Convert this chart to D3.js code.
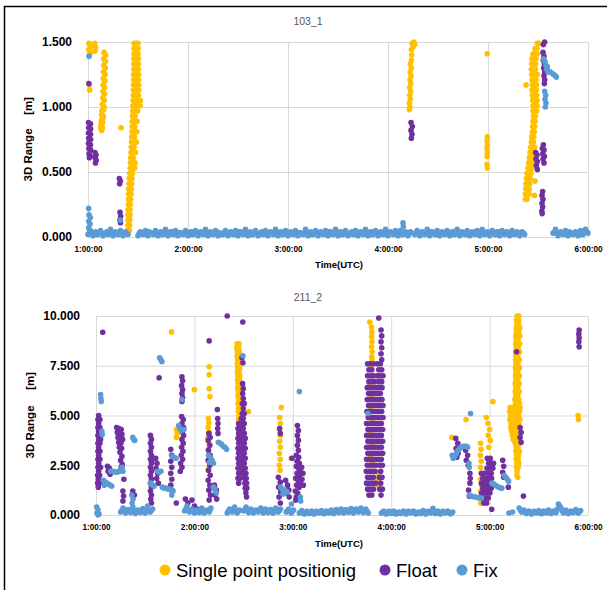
<!DOCTYPE html>
<html>
<head>
<meta charset="utf-8">
<script src="https://cdn.jsdelivr.net/npm/d3@7"></script>
<style>
  body { margin: 0; background: #fff; }
  svg text { font-family: "Liberation Sans", Arial, sans-serif; }
  .grid line { stroke: #d9d9d9; stroke-width: 1; }
  .grid .domain { display: none; }
</style>
</head>
<body>
<svg id="chart" width="607" height="590"></svg>
<script>

// x values are minutes after 1:00:00 UTC, y values are 3D range in metres
var hourTicks = [0, 60, 120, 180, 240, 300];
var hourLabels = ["1:00:00", "2:00:00", "3:00:00", "4:00:00", "5:00:00", "6:00:00"];
var seriesNames = ["Single point positionig", "Float", "Fix"];
var seriesColors = ["#FFC000", "#7030A0", "#5B9BD5"];

var ticks103 = [0, 0.5, 1, 1.5];
var ticks211 = [0, 2.5, 5, 7.5, 10];

// ---------- 103_1 ----------
var spp103 = [
 [0.5,1.49],[1.2,1.46],[0.5,1.44],[1.5,1.42],[0.8,1.40],[2,1.48],[0.8,1.17],[1,1.13],[4,1.49],[4.5,1.46],[4.2,1.43],
 [9.6,1.42],[10.6,1.40],[9.5,1.37],[10.5,1.35],[9.4,1.32],[10.4,1.30],[9.3,1.27],[10.3,1.25],[9.2,1.22],[10.2,1.20],[9.1,1.17],[10,1.15],[9,1.12],[9.9,1.10],[8.9,1.07],[9.8,1.05],[8.6,1.02],[9.6,1.00],[8.3,0.97],[9.4,0.98],[8.2,0.94],[9.2,0.93],[8,0.90],[9,0.91],[7.8,0.87],[8.8,0.88],[7.6,0.84],[8.6,0.84],[8.2,0.82],
 [19.8,0.84],
 [23.8,0.05],[24.8,0.05],[23.9,0.09],[25,0.09],[24,0.13],[25.1,0.13],[24,0.17],[25.2,0.17],[24.1,0.21],[25.3,0.21],[24.2,0.25],[25.4,0.25],[24.3,0.29],[25.6,0.29],[24.4,0.33],[25.8,0.33],[24.5,0.37],[26,0.37],[24.6,0.41],[26.2,0.41],[24.8,0.45],[26.4,0.45],[25,0.49],[26.6,0.49],
 [25.3,0.53],[26.8,0.53],[28,0.53],[25.5,0.57],[27,0.57],[28.2,0.57],[25.6,0.61],[27.2,0.61],[25.8,0.65],[27.4,0.65],[28.6,0.65],[26,0.69],[27.6,0.69],[26.1,0.73],[27.8,0.73],[29,0.73],[26.2,0.77],[27.9,0.77],[26.4,0.81],[28,0.81],[29.3,0.81],[26.5,0.85],[28.1,0.85],[26.6,0.89],[28.2,0.89],[29.5,0.89],[26.7,0.93],[28.3,0.93],[26.8,0.97],[28.4,0.97],[29.8,0.97],
 [27,1.01],[28.5,1.01],[30,1.01],[31.3,1.01],[27.1,1.05],[28.6,1.05],[30.2,1.05],[31.5,1.05],[27.2,1.09],[28.7,1.09],[30.3,1.09],[27.3,1.13],[28.8,1.13],[30.5,1.13],[27.3,1.17],[28.9,1.17],[30.4,1.17],[27.4,1.21],[29,1.21],[30.4,1.21],[27.4,1.25],[29,1.25],[30.3,1.25],[27.5,1.29],[29.1,1.29],[30.3,1.29],[27.5,1.33],[29.1,1.33],[30.2,1.33],[27.5,1.37],[29.1,1.37],[30.2,1.37],[27.6,1.41],[29.1,1.41],[30.1,1.41],[27.6,1.45],[29.1,1.45],[30.1,1.45],[27.7,1.49],[29.1,1.49],[30,1.49],
 [195.5,1.50],[194.5,1.49],[196,1.48],[195,1.46],[194,1.44],[194.2,1.40],[194,1.36],[193.4,1.33],[194,1.30],[193.3,1.27],[193.8,1.24],[193.2,1.21],[193.7,1.18],[193,1.15],[193.6,1.12],[193,1.09],[193.4,1.06],[192.8,1.03],[193.2,1.00],[192.8,0.98],
 [239.5,1.41],[239.6,0.77],[239.4,0.74],[239.6,0.71],[239.4,0.68],[239.6,0.65],[239.5,0.62],[239.4,0.56],[239.6,0.53],
 [269.6,1.49],[270.6,1.49],[268.2,1.45],[269.4,1.45],[267,1.41],[268.4,1.41],[269.6,1.41],[266.4,1.37],[267.6,1.37],[268.8,1.37],[266.2,1.33],[267.4,1.33],[268.6,1.33],[266,1.29],[267.2,1.29],[268.4,1.29],
 [266.2,1.25],[267.4,1.25],[268.6,1.25],[269.6,1.25],[266.4,1.21],[267.6,1.21],[268.8,1.21],[262.8,1.17],[266.6,1.17],[267.8,1.17],[269,1.17],[266.4,1.13],[267.8,1.13],[269,1.13],
 [266.6,1.09],[268,1.09],[269.2,1.09],[266.8,1.05],[268,1.05],[269.4,1.05],[267,1.01],[268.2,1.01],[269.4,1.01],[267,0.97],[268.2,0.97],[269.2,0.97],[267.2,0.93],[268.4,0.93],[267,0.89],[268.2,0.89],
 [266.8,0.85],[268,0.85],[266.6,0.81],[267.8,0.81],[266.2,0.77],[267.4,0.77],[266,0.73],[267.2,0.73],[265.6,0.69],[266.8,0.69],[268,0.69],[265.2,0.65],[266.4,0.65],[267.6,0.65],
 [264.8,0.61],[266,0.61],[267.2,0.61],[264.4,0.57],[265.6,0.57],[266.8,0.57],[264,0.53],[265.2,0.53],[266.4,0.53],[263.4,0.49],[264.6,0.49],[265.8,0.49],[263,0.45],[264.2,0.45],[265.4,0.45],[268.2,0.43],
 [262.8,0.41],[264,0.41],[265,0.41],[262.6,0.37],[263.8,0.37],[264.8,0.37],[262.4,0.33],[263.6,0.33],[264.6,0.33],[267.8,0.32],[262.4,0.29],[263.4,0.29]
];

var float103 = [
 [0.5,1.18],
 [0.3,0.88],[1.5,0.87],[0.4,0.84],[1.6,0.83],[0.3,0.80],[1.5,0.79],[0.4,0.76],[1.6,0.75],[0.3,0.72],[1.5,0.71],[0.5,0.68],[1.6,0.67],[0.6,0.64],[1.4,0.62],[0.8,0.61],
 [4.2,0.65],[4.8,0.63],[4.3,0.61],[4.9,0.59],[4.5,0.57],
 [18.8,0.45],[19.4,0.43],[19,0.41],
 [19.2,0.19],[19.6,0.16],[19.2,0.13],[19.5,0.11],
 [193.8,0.88],[194.6,0.85],[193.8,0.82],[194.4,0.79],[194,0.76],
 [274,1.50],[273.2,1.48],[273,1.42],[273.6,1.39],[273.2,1.36],[273.8,1.33],[273.4,1.30],[274,1.27],[273.6,1.24],[274,1.21],[273.8,1.18],
 [268.6,0.65],[269.4,0.63],[268.8,0.60],[269.6,0.58],[269,0.55],[269.6,0.52],
 [273.2,0.71],[272.6,0.68],[273.6,0.67],[272.8,0.64],[273.8,0.62],[273,0.60],[273.6,0.57],
 [272.8,0.35],[272.4,0.32],[273,0.29],[272.4,0.26],[272.8,0.23],[272.3,0.20],[272.5,0.18]
];

var fix103 = [
 [0.6,1.39],[19.5,0.13],
 [0.4,0.22],[0.6,0.17],[1.4,0.15],[0.5,0.12],[1.2,0.10],[0.4,0.07],
 [273.4,1.37],[274.2,1.35],[274.8,1.32],[275.6,1.31],[275.2,1.29],[276,1.27],[277.2,1.27],[278.4,1.26],[279.4,1.25],[280.4,1.24],[281,1.23],
 [274,1.12],[274.6,1.09],[274.2,1.06],[274.8,1.03],[274.4,1.00],
 [189,0.11],[189.2,0.08],
 [0,.02],[1.5,.05],[3,.01],[4.5,.04],[6,.02],[7.5,.05],[9,.01],[10.5,.03],[12,.02],[13.5,.06],[15,.01],[16.5,.04],[18,.02],[19.5,.05],[21,.01],[22.5,.04],[24,.02],
 [30,.01],[31.5,.04],[33,.02],[34.5,.05],[36,.01],[37.5,.03],[39,.02],[40.5,.05],[42,.01],[43.5,.04],[45,.02],[46.5,.06],[48,.01],[49.5,.04],[51,.02],[52.5,.05],[54,.01],[55.5,.03],[57,.02],[58.5,.05],
 [60,.01],[61.5,.04],[63,.02],[64.5,.05],[66,.01],[67.5,.04],[69,.02],[70.5,.06],[72,.01],[73.5,.04],[75,.02],[76.5,.05],[78,.01],[79.5,.03],[81,.02],[82.5,.05],[84,.01],[85.5,.04],[87,.02],[88.5,.05],
 [90,.01],[91.5,.04],[93,.02],[94.5,.06],[96,.01],[97.5,.04],[99,.02],[100.5,.05],[102,.01],[103.5,.03],[105,.02],[106.5,.05],[108,.01],[109.5,.04],[111,.02],[112.5,.06],[114,.01],[115.5,.04],[117,.02],[118.5,.05],
 [120,.01],[121.5,.04],[123,.02],[124.5,.05],[126,.01],[127.5,.03],[129,.02],[130.5,.06],[132,.01],[133.5,.04],[135,.02],[136.5,.05],[138,.01],[139.5,.04],[141,.02],[142.5,.05],[144,.01],[145.5,.04],[147,.02],[148.5,.06],
 [150,.01],[151.5,.04],[153,.02],[154.5,.05],[156,.01],[157.5,.03],[159,.02],[160.5,.05],[162,.01],[163.5,.04],[165,.02],[166.5,.06],[168,.01],[169.5,.04],[171,.02],[172.5,.05],[174,.01],[175.5,.04],[177,.02],[178.5,.06],
 [180,.01],[181.5,.04],[183,.02],[184.5,.05],[186,.01],[187.5,.05],[189,.02],[190.5,.04],[192,.01],[193.5,.04],
 [196,.02],[197.5,.05],[199,.01],[200.5,.04],[202,.02],[203.5,.06],[205,.01],[206.5,.04],[208,.02],[209.5,.05],[211,.01],[212.5,.04],[214,.02],[215.5,.05],[217,.01],[218.5,.04],[220,.02],[221.5,.06],[223,.01],[224.5,.04],
 [226,.02],[227.5,.05],[229,.01],[230.5,.04],[232,.02],[233.5,.05],[235,.01],[236.5,.06],[238,.02],[239.5,.04],[241,.01],[242.5,.05],[244,.02],[245.5,.04],[247,.01],[248.5,.05],[250,.02],[251.5,.04],[253,.01],[254.5,.05],
 [256,.02],[257.5,.04],[259,.01],[260.5,.04],[262,.02],
 [279,.03],[280.5,.06],[282,.01],[283.5,.04],[285,.02],[286.5,.05],[288,.01],[289.5,.03],[291,.02],[292.5,.04],[294,.01],[295.5,.05],[297,.02],[298.5,.06],[300,.03]
];

// extra Fix epochs that fill the dense 103_1 near-zero band
var fix103Band = [
 [0.75,.035],[2.25,.025],[3.75,.03],[5.25,.02],[6.75,.035],[8.25,.03],[9.75,.025],[11.25,.04],[12.75,.03],[14.25,.02],[15.75,.035],[17.25,.03],[18.75,.025],[20.25,.035],[21.75,.03],[23.25,.025],
 [30.75,.03],[32.25,.025],[33.75,.035],[35.25,.02],[36.75,.04],[38.25,.03],[39.75,.025],[41.25,.035],[42.75,.03],[44.25,.02],[45.75,.035],[47.25,.03],[48.75,.025],[50.25,.04],[51.75,.03],[53.25,.02],
 [54.75,.035],[56.25,.03],[57.75,.025],[59.25,.035],[60.75,.03],[62.25,.02],[63.75,.04],[65.25,.03],[66.75,.025],[68.25,.035],[69.75,.03],[71.25,.02],[72.75,.035],[74.25,.03],[75.75,.025],[77.25,.04],
 [78.75,.03],[80.25,.02],[81.75,.035],[83.25,.03],[84.75,.025],[86.25,.035],[87.75,.03],[89.25,.02],[90.75,.04],[92.25,.03],[93.75,.025],[95.25,.035],[96.75,.03],[98.25,.02],[99.75,.035],[101.25,.03],
 [102.75,.025],[104.25,.04],[105.75,.03],[107.25,.02],[108.75,.035],[110.25,.03],[111.75,.025],[113.25,.035],[114.75,.03],[116.25,.02],[117.75,.04],[119.25,.03],[120.75,.025],[122.25,.035],[123.75,.03],[125.25,.02],
 [126.75,.035],[128.25,.03],[129.75,.025],[131.25,.04],[132.75,.03],[134.25,.02],[135.75,.035],[137.25,.03],[138.75,.025],[140.25,.035],[141.75,.03],[143.25,.02],[144.75,.04],[146.25,.03],[147.75,.025],[149.25,.035],
 [150.75,.03],[152.25,.02],[153.75,.035],[155.25,.03],[156.75,.025],[158.25,.04],[159.75,.03],[161.25,.02],[162.75,.035],[164.25,.03],[165.75,.025],[167.25,.035],[168.75,.03],[170.25,.02],[171.75,.04],[173.25,.03],
 [174.75,.025],[176.25,.035],[177.75,.03],[179.25,.02],[180.75,.035],[182.25,.03],[183.75,.025],[185.25,.04],[186.75,.03],[188.25,.02],[189.75,.035],[191.25,.03],[192.75,.025],
 [196.75,.035],[198.25,.03],[199.75,.02],[201.25,.035],[202.75,.03],[204.25,.025],[205.75,.04],[207.25,.03],[208.75,.02],[210.25,.035],[211.75,.03],[213.25,.025],[214.75,.035],[216.25,.03],[217.75,.02],[219.25,.04],
 [220.75,.03],[222.25,.025],[223.75,.035],[225.25,.03],[226.75,.02],[228.25,.035],[229.75,.03],[231.25,.025],[232.75,.04],[234.25,.03],[235.75,.02],[237.25,.035],[238.75,.03],[240.25,.025],[241.75,.035],[243.25,.03],
 [244.75,.02],[246.25,.04],[247.75,.03],[249.25,.025],[250.75,.035],[252.25,.03],[253.75,.02],[255.25,.035],[256.75,.03],[258.25,.025],[259.75,.035],[261.25,.03],
 [279.75,.035],[281.25,.03],[282.75,.025],[284.25,.035],[285.75,.03],[287.25,.02],[288.75,.04],[290.25,.03],[291.75,.025],[293.25,.035],[294.75,.03],[296.25,.02],[297.75,.035],[299.25,.04]
];

// ---------- 211_2 ----------
var spp211 = [
 [46,9.2],[60,6.3],[49,4.3],[49.5,4.1],[49,3.9],
 [69,7.45],[69,7.05],[69,6.35],[69.5,5.95],[68.5,4.85],[68.8,4.62],[68.4,4.4],[69,4.15],[68.3,3.9],[69,3.6],[68.5,3.3],[69.2,3.0],[68.6,2.7],[69,2.4],[68.5,2.25],
 [86,8.6],[87.2,8.6],[85.8,8.4],[87,8.4],[86.2,8.2],[87.4,8.2],[86,8.0],[87.2,8.0],[86.3,7.8],[87.5,7.8],[86.1,7.6],[87.3,7.6],[86.4,7.4],[87.6,7.4],[86.2,7.2],[87.4,7.2],[86.5,7.0],[87.7,7.0],
 [86.3,6.8],[87.5,6.8],[86.6,6.6],[87.8,6.6],[86.4,6.4],[87.6,6.4],[86.7,6.2],[87.9,6.2],[86.5,6.0],[87.7,6.0],[86.8,5.8],[88,5.8],[86.6,5.6],[87.8,5.6],[87,5.4],[88.2,5.4],[86.8,5.2],[88,5.2],
 [87.2,5.0],[88.4,5.0],[87,4.8],[88.2,4.8],[87.3,4.6],[88.5,4.6],[87.1,4.4],[87.4,4.2],[88.6,4.2],[87.2,4.0],[87.5,3.8],[88.7,3.8],[87.3,3.6],[87.6,3.4],[88.8,3.4],[87.4,3.2],[87.7,3.0],[88.9,3.0],
 [87.5,2.8],[87.8,2.6],[87.6,2.4],[87.9,2.2],
 [93,5.2],
 [113,5.4],[112,4.9],[112.4,4.6],[111.8,4.3],[112.5,4.0],[112,3.7],[112.4,3.4],[111.8,3.1],[112.3,2.8],[111.8,2.5],[112.2,2.25],
 [119,2.85],
 [167,9.7],[168,9.45],[168.2,9.2],[168,8.95],[168.3,8.7],[168,8.45],[168.4,8.2],[168.1,7.95],[168.3,7.8],[167.5,7.4],[168.5,7.0],[167,6.5],[168,6.0],[167.5,5.4],[168.6,4.8],[167.2,4.2],[168,3.6],[167.5,3.0],[168.4,2.6],[167.8,2.2],
 [172,2.1],[172.3,1.8],[172,1.5],
 [217,3.9],[225.6,4.8],
 [234.5,3.6],[234.8,3.3],[234.4,3.0],[234.9,2.7],[234.5,2.4],[235,2.1],[234.5,1.8],[235,1.5],[234.6,1.2],[235,0.9],[234.6,0.6],
 [238,4.9],[239,4.6],[240,4.3],[239.2,4.0],[240.4,3.75],[242,5.7],[239.5,3.4],
 [256.8,10.0],[257.8,10.0],[256.4,9.8],[257.6,9.8],[256.6,9.6],[257.8,9.6],[256.2,9.4],[257.4,9.4],[258.4,9.4],[256.4,9.2],[257.6,9.2],[256,9.0],[257.2,9.0],[258.4,9.0],[256.2,8.8],[257.4,8.8],
 [256,8.6],[257.2,8.6],[258.4,8.6],[256.2,8.4],[257.4,8.4],[255.8,8.2],[257,8.2],[258.2,8.2],[256,8.0],[257.2,8.0],[255.8,7.8],[257,7.8],[258.2,7.8],[256,7.6],[257.2,7.6],
 [255.8,7.4],[257,7.4],[258.2,7.4],[256,7.2],[257.2,7.2],[255.8,7.0],[257,7.0],[258.2,7.0],[256,6.8],[257.2,6.8],[255.6,6.6],[256.8,6.6],[258,6.6],[256,6.4],[257.2,6.4],
 [255.6,6.2],[256.8,6.2],[258,6.2],[256,6.0],[257.2,6.0],[255.4,5.8],[256.6,5.8],[257.8,5.8],[255.8,5.6],[257,5.6],[258.2,5.6],
 [252.6,5.4],[253.8,5.4],[255,5.4],[256.2,5.4],[257.4,5.4],[258.6,5.4],[252.2,5.2],[253.4,5.2],[254.6,5.2],[255.8,5.2],[257,5.2],[258.2,5.2],
 [252.8,5.0],[254,5.0],[255.2,5.0],[256.4,5.0],[257.6,5.0],[252.4,4.8],[253.6,4.8],[254.8,4.8],[256,4.8],[257.2,4.8],[258.4,4.8],
 [253,4.6],[254.2,4.6],[255.4,4.6],[256.6,4.6],[257.8,4.6],[252.8,4.4],[254,4.4],[255.2,4.4],[256.4,4.4],[257.6,4.4],
 [253.4,4.2],[254.6,4.2],[255.8,4.2],[257,4.2],[254,4.0],[255.2,4.0],[256.4,4.0],[257.6,4.0],[254.4,3.8],[255.6,3.8],[256.8,3.8],
 [255.6,3.6],[256.8,3.6],[258,3.6],[256.2,3.4],[257.4,3.4],[256,3.2],[257.2,3.2],[258.2,3.2],[256.4,3.0],[257.6,3.0],[256.2,2.8],[257.4,2.8],
 [256.6,2.6],[257.8,2.6],[256.4,2.4],[257.4,2.4],[256.8,2.2],[256.6,2.0],[257.2,1.9],
 [294,5.0],[294.2,4.8]
];

var float211 = [
 [4.1,9.18],
 [1.6,5.0],[1.2,4.8],[2.4,4.8],[1.6,4.6],[1.2,4.4],[2.4,4.4],[1.6,4.2],[2.8,4.2],[1.2,4.0],[2.4,4.0],[1.6,3.8],[2.8,3.8],[1.2,3.6],[2.4,3.6],[1.6,3.4],[1.2,3.2],[2.4,3.2],[1.6,3.0],
 [1.2,2.8],[2.4,2.8],[1.6,2.6],[1.2,2.4],[2.8,2.4],[1.6,2.2],[1.0,2.0],[2.2,2.0],[1.4,1.8],[1.0,1.6],[2.0,1.6],[1.4,1.4],
 [7,2.45],[8.2,2.35],[7.4,2.2],[8.6,2.05],
 [12.6,4.4],[14,4.35],[15.4,4.3],[13,4.15],[14.4,4.1],[15.8,4.05],[13.4,3.9],[14.8,3.85],[16.2,3.8],[13.8,3.65],[15.2,3.6],[14.2,3.4],[15.6,3.35],[14.6,3.15],[15.8,2.95],[15,2.75],[16,2.55],[15.4,2.4],
 [17,1.8],[16.4,1.2],[16.8,0.95],[16.4,0.7],
 [22.4,1.2],[23.4,1.0],
 [33.2,4.0],[33.8,3.8],[33.2,3.6],[33.8,3.4],[33.2,3.2],[33.8,3.0],[33.2,2.8],[34.4,2.8],[33.8,2.6],[33.2,2.4],[33.8,2.2],[33.2,2.0],[33.8,1.8],[33.2,1.6],[33.8,1.4],[33.2,1.2],[33.8,1.0],[33.4,0.8],[33.8,0.6],
 [36.4,2.85],[37.2,2.6],[36.6,2.35],[37.6,2.1],[37,1.85],[38,1.6],
 [38.5,6.9],
 [45.6,3.3],[46.2,3.0],[45.6,2.7],[46.2,2.4],[45.6,2.1],[46.2,1.8],[45.6,1.5],[46,1.25],
 [52.4,6.95],[52.8,6.75],[52.2,6.5],[52.8,6.3],[52.4,6.1],[52.8,5.9],[52.4,5.7],[52.2,4.95],[53.2,4.8],[52.4,4.6],[53.4,4.4],[52.6,4.2],[53.4,4.0],[52.4,3.8],[53.2,3.6],[52.2,3.4],[53,3.2],[52,3.0],[52.8,2.8],[51.6,2.6],[52.4,2.4],[51.4,2.2],
 [49,0.6],[54.5,0.8],[56,0.6],[58.5,0.75],[60,0.45],[61.5,0.3],
 [69,8.75],[68.8,4.1],[69.6,3.9],[68.4,3.75],[69.4,3.5],[68.6,3.25],[69.6,3.0],[68.4,2.75],[69.4,2.5],[68.6,2.25],[69.6,2.0],[68.4,1.75],[69.4,1.5],[68.8,1.25],[69.8,1.0],[69,0.75],
 [72.2,1.5],[73.4,1.25],[72.6,1.0],[73.6,0.8],
 [74,5.3],[74.2,4.85],[74.4,4.6],[74.2,4.35],[74.4,4.1],
 [80,10.0],[89.5,9.7],[89,7.9],[89.6,7.65],
 [89.4,6.6],[89.8,6.35],[89.4,6.1],[89.8,5.85],[89.2,5.6],[90.4,5.6],[89.8,5.35],[89.2,5.1],[90.4,5.1],[88.6,4.85],[89.8,4.85],
 [87,4.6],[89.2,4.6],[90.4,4.6],[86.6,4.35],[88.6,4.35],[89.8,4.35],[87,4.1],[89.2,4.1],[90.4,4.1],[86.6,3.85],[88.6,3.85],[89.8,3.85],[91,3.85],
 [87,3.6],[89.2,3.6],[90.4,3.6],[86.6,3.35],[88.6,3.35],[89.8,3.35],[91,3.35],[87,3.1],[89.2,3.1],[90.4,3.1],[86.6,2.85],[88.6,2.85],[89.8,2.85],[91,2.85],
 [87,2.6],[89.2,2.6],[90.4,2.6],[86.6,2.35],[88.6,2.35],[89.8,2.35],[91,2.35],[87,2.1],[89.2,2.1],[90.4,2.1],[91.4,2.1],[86.6,1.85],[87.8,1.85],[90.6,1.85],[91.6,1.85],
 [87,1.6],[90.8,1.6],[91.8,1.6],[91,1.35],[92,1.35],[91.4,1.1],[91.8,0.9],
 [112,4.35],[112.4,4.1],
 [111.2,1.9],[112.4,1.65],[111.4,1.4],[112.6,1.15],[111.6,0.9],[112.4,0.6],
 [115.6,1.75],[116.8,1.5],[117.6,1.25],[116.4,1.1],[117.8,0.9],
 [119.5,2.85],
 [122.8,4.5],[123.4,4.25],[122.8,4.0],[123.4,3.75],[122.8,3.5],[123.4,3.25],[122.2,3.0],[123.6,2.9],[122.6,2.7],[124,2.6],[122.2,2.45],[123.4,2.35],[124.6,2.2],[122.6,2.1],[124,1.95],[121.8,1.85],
 [123.2,1.75],[124.6,1.6],[122.4,1.5],[123.8,1.4],[121.6,1.2],[123,1.1],[122.2,0.9],[121.8,0.75],
 [125.4,2.4],[126.2,2.1],[125.6,1.8],[126.4,1.5],
 [172.4,9.9],[173.8,9.3],[174.2,9.0],[173.8,8.7],[174.2,8.4],[173.8,8.1],[174.2,7.8],
 [165.6,7.6],[167.4,7.6],[169.2,7.6],[171.6,7.6],[173.4,7.6],
 [166.4,7.3],[168.2,7.3],[172.4,7.3],[174.2,7.3],
 [165.6,7.0],[167.4,7.0],[169.2,7.0],[171.6,7.0],[173.4,7.0],[175,7.0],
 [166.4,6.7],[168.2,6.7],[170,6.7],[172.4,6.7],[174.2,6.7],
 [165.4,6.4],[167.2,6.4],[169,6.4],[170.8,6.4],[172.6,6.4],[174.4,6.4],
 [166.2,6.1],[168,6.1],[169.8,6.1],[171.6,6.1],[173.4,6.1],
 [165.4,5.8],[167.2,5.8],[169,5.8],[170.8,5.8],[172.6,5.8],[174.4,5.8],
 [166.2,5.5],[168,5.5],[169.8,5.5],[171.6,5.5],[173.4,5.5],[175,5.5],
 [165.2,5.2],[167,5.2],[168.8,5.2],[170.6,5.2],[172.4,5.2],[174.2,5.2],
 [166,4.9],[167.8,4.9],[169.6,4.9],[171.4,4.9],[173.2,4.9],[175,4.9],
 [165,4.6],[166.8,4.6],[168.6,4.6],[170.4,4.6],[172.2,4.6],[174,4.6],
 [165.8,4.3],[167.6,4.3],[169.4,4.3],[171.2,4.3],[173,4.3],[174.8,4.3],
 [165,4.0],[166.8,4.0],[168.6,4.0],[170.4,4.0],[172.2,4.0],[174,4.0],
 [165.8,3.7],[167.6,3.7],[169.4,3.7],[171.2,3.7],[173,3.7],[174.8,3.7],
 [165,3.4],[166.8,3.4],[168.6,3.4],[170.4,3.4],[172.2,3.4],[174,3.4],
 [165.8,3.1],[167.6,3.1],[169.4,3.1],[171.2,3.1],[173,3.1],[174.8,3.1],
 [165,2.8],[166.8,2.8],[168.6,2.8],[170.4,2.8],[172.2,2.8],[174,2.8],
 [165.4,2.5],[167.2,2.5],[169,2.5],[170.8,2.5],[173,2.5],[174.6,2.5],
 [164.8,2.2],[166.6,2.2],[168.4,2.2],[170.2,2.2],[173.6,2.2],
 [165.6,1.9],[167.4,1.9],[169.2,1.9],[172.8,1.9],[174.4,1.9],
 [165,1.6],[166.8,1.6],[168.6,1.6],[170.4,1.6],[173.6,1.6],
 [165.6,1.3],[167.4,1.3],[169.2,1.3],[173,1.3],[174.6,1.3],
 [166.4,1.0],[168.2,1.0],[173.8,1.0],
 [219.4,3.85],[220.6,3.6],[219.6,3.35],[220.8,3.1],[220,2.9],
 [225.4,3.25],[226.6,3.0],[225.8,2.75],[227,2.5],
 [228,2.1],[228.2,1.85],[228,1.6],[227.2,1.25],[227.6,0.95],
 [238.6,2.85],[240.4,2.85],[239.4,2.6],[241.2,2.6],[242.4,2.6],[238.4,2.35],[240.2,2.35],[242,2.35],
 [235,2.1],[236.8,2.1],[239.2,2.1],[241,2.1],[235.8,1.85],[237.6,1.85],[239.4,1.85],[241.2,1.85],
 [235,1.6],[236.8,1.6],[238.6,1.6],[240.4,1.6],[235.8,1.35],[237.6,1.35],[239.4,1.35],[241,1.35],
 [235,1.1],[236.8,1.1],[238.6,1.1],[240.2,1.1],[235.6,0.85],[237.4,0.85],[239.2,0.85],[236.4,0.6],[238.2,0.6],
 [241.3,0.29],
 [248,2.75],[248.6,2.45],[248,2.15],[248.6,1.9],
 [251.4,1.4],[256.5,8.2],
 [258.6,4.4],[259.2,4.15],[258.6,3.9],[259.2,3.65],
 [260.6,0.95],
 [294.6,9.3],[294.4,9.1],[294.6,8.9],[294.4,8.7],[294.6,8.45]
];

var fix211 = [
 [0.4,0.4],[1.2,0.25],[0.6,0.1],[1.8,0.05],[1.2,0.0],
 [2.8,6.05],[3,5.85],[3.2,5.7],[3.6,4.2],[3.8,4.05],
 [4.6,1.75],[5,1.5],[5.6,1.65],[6.6,1.6],[7.6,1.55],[8.6,1.5],[9.6,1.45],
 [9,2.2],[10,2.2],[11,2.18],[12,2.15],[13,2.15],[14,2.2],[15,2.28],[16,2.4],[16.4,2.2],
 [22.4,3.9],[23,3.8],[23.6,3.75],
 [21.8,1.0],[22.6,0.8],[22,0.6],
 [33.4,1.6],[34.6,1.5],[35.4,1.45],
 [37.4,2.2],[38.6,2.15],[39.6,2.2],
 [38.8,7.9],[39.6,7.8],[40.2,7.7],
 [40.4,1.4],[41.6,1.35],[42.8,1.35],[44,1.3],[45.2,1.3],[46.4,1.25],[47,1.2],[46.2,1.0],
 [46.4,2.95],[47.6,2.9],[48.8,2.85],
 [50.4,4.5],[51.2,4.35],[52,4.25],[53.6,4.3],[52.4,5.8],
 [68.6,3.0],[69.8,2.9],[70.8,2.75],[69.2,2.65],[71.6,2.6],
 [71.6,1.4],[72.6,1.25],[73.4,1.1],
 [74.6,3.65],[75.6,3.6],[76.6,3.55],[77.6,3.45],[78.6,3.4],[79.6,3.3],
 [89.6,8.0],
 [112.6,1.4],[113.6,1.3],[114.6,1.25],[115.6,1.2],[116.6,1.15],[114,1.05],
 [124,6.2],[124.6,0.9],[124.8,0.7],[119.2,0.55],
 [165.8,5.1],
 [217.2,3.0],[217.8,2.85],[218.8,2.95],[219.8,3.1],[220.8,3.25],[221.8,3.35],[222.8,3.4],[223.8,3.45],[224.8,3.45],[225.8,3.45],[226.6,3.4],
 [227.4,2.6],[227.6,2.4],[228.4,5.1],
 [227.8,1.0],[229,0.95],[230.2,0.92],[231.4,0.9],[232.6,0.88],[233.8,0.86],[235,0.85],
 [241.4,1.6],[242.6,1.55],[243.8,1.48],[245,1.42],[246.2,1.38],[247.4,1.35],
 [248.8,2.0],[249.8,1.9],[250.8,1.8],[251.6,1.7],
 [251.8,0.1],
 [15,.15],[16.5,.35],[18,.1],[19.5,.28],[21,.12],[22.5,.4],[24,.08],[25.5,.25],[27,.12],[28.5,.32],[30,.1],[31.5,.45],[33,.15],[34.5,.3],
 [54,.2],[55.5,.45],[57,.15],[58.5,.3],[60,.1],[61.5,.25],[63,.12],[64.5,.35],[66,.1],[67.5,.25],[69,.15],[70,.35],
 [80,.1],[81.5,.3],[83,.15],[84.5,.4],[86,.1],[87.5,.25],
 [90,.2],[91.5,.4],[93,.12],[94.5,.3],[96,.1],[97.5,.25],[99,.15],[100.5,.35],[102,.1],[103.5,.3],[105,.12],[106.5,.28],[108,.1],[109.5,.35],[111,.15],[112.5,.3],
 [116,.15],[117.5,.3],[119,.1],[120.5,.25],
 [124,.1],[125.5,.22],[127,.05],[128.5,.18],[130,.08],[131.5,.2],[133,.05],[134.5,.18],[136,.1],[137.5,.22],[139,.06],[140.5,.2],[142,.1],[143.5,.25],[145,.08],[146.5,.28],
 [148,.12],[149.5,.3],[151,.1],[152.5,.28],[154,.14],[155.5,.32],[157,.1],[158.5,.3],[160,.15],[161.5,.35],[163,.12],[164.5,.3],[166,.1],
 [174,.1],[175.5,.2],[177,.05],[178.5,.18],[180,.08],[181.5,.2],[183,.05],[184.5,.15],[186,.08],[187.5,.2],[189,.05],[190.5,.18],[192,.1],[193.5,.2],[195,.05],
 [196.5,.15],[198,.08],[199.5,.22],[201,.05],[202.5,.18],[204,.1],[205.5,.34],[207,.08],[208.5,.2],[210,.05],[211.5,.18],[213,.1],[214.5,.2],[216,.06],[217.5,.15],
 [254,.15],
 [258,.35],[259.5,.15],[261,.25],[262.5,.08],[264,.2],[265.5,.05],[267,.18],[268.5,.1],[270,.22],[271.5,.06],[273,.2],[274.5,.1],[276,.25],[277.5,.08],[279,.2],
 [280.5,.12],[282,.55],[283.5,.35],[285,.1],[286.5,.25],[288,.08],[289.5,.2],[291,.12],[292.5,.28],[294,.1],[295.5,.22]
];

// extra Fix epochs that fill the 211_2 near-zero band
var fix211Band = [
 [15.75,.22],[17.25,.2],[18.75,.18],[20.25,.22],[21.75,.2],[23.25,.18],[24.75,.2],[26.25,.22],[27.75,.18],[29.25,.2],[30.75,.25],[32.25,.2],[33.75,.22],
 [54.75,.3],[56.25,.25],[57.75,.2],[59.25,.22],[60.75,.18],[62.25,.2],[63.75,.22],[65.25,.18],[66.75,.2],[68.25,.22],[69.5,.25],
 [80.75,.2],[82.25,.22],[83.75,.25],[85.25,.2],[86.75,.18],
 [90.75,.28],[92.25,.22],[93.75,.2],[95.25,.18],[96.75,.2],[98.25,.22],[99.75,.25],[101.25,.2],[102.75,.18],[104.25,.22],[105.75,.2],[107.25,.18],[108.75,.22],[110.25,.25],[111.75,.2],
 [116.75,.22],[118.25,.2],[119.75,.18],
 [124.75,.15],[126.25,.12],[127.75,.1],[129.25,.14],[130.75,.12],[132.25,.1],[133.75,.12],[135.25,.15],[136.75,.12],[138.25,.14],[139.75,.12],[141.25,.15],[142.75,.18],[144.25,.15],[145.75,.18],
 [147.25,.2],[148.75,.22],[150.25,.2],[151.75,.18],[153.25,.22],[154.75,.24],[156.25,.2],[157.75,.22],[159.25,.24],[160.75,.25],[162.25,.22],[163.75,.2],[165.25,.18],
 [174.75,.14],[176.25,.12],[177.75,.1],[179.25,.13],[180.75,.14],[182.25,.1],[183.75,.1],[185.25,.12],[186.75,.14],[188.25,.1],[189.75,.12],[191.25,.14],[192.75,.15],[194.25,.12],
 [195.75,.1],[197.25,.12],[198.75,.15],[200.25,.13],[201.75,.1],[203.25,.14],[204.75,.2],[206.25,.18],[207.75,.14],[209.25,.12],[210.75,.1],[212.25,.14],[213.75,.15],[215.25,.12],[216.75,.1],
 [258.75,.25],[260.25,.2],[261.75,.15],[263.25,.14],[264.75,.12],[266.25,.1],[267.75,.14],[269.25,.15],[270.75,.12],[272.25,.13],[273.75,.15],[275.25,.18],[276.75,.14],[278.25,.15],
 [279.75,.15],[281.25,.3],[282.75,.45],[284.25,.2],[285.75,.18],[287.25,.15],[288.75,.13],[290.25,.16],[291.75,.2],[293.25,.18],[294.75,.15]
];

var svg = d3.select("#chart");

// frame
svg.append("path")
  .attr("d", "M4.5,590V6.5H607")
  .attr("fill", "none")
  .attr("stroke", "#000")
  .attr("stroke-width", 1.5);

drawPanel({
  title: "103_1", titleY: 25,
  left: 88, right: 588, top: 42, bottom: 237,
  yMax: 1.5, yTicks: ticks103,
  timeY: 268, rangeX: 32, rangeY: 155, unitY: 106,
  series: [spp103, float103, fix103.concat(fix103Band)]
});

drawPanel({
  title: "211_2", titleY: 301,
  left: 96, right: 588, top: 316, bottom: 515,
  yMax: 10, yTicks: ticks211,
  timeY: 547, rangeX: 34, rangeY: 432, unitY: 381,
  series: [spp211, float211, fix211.concat(fix211Band)]
});

function drawPanel(p) {
  var x = d3.scaleLinear().domain([0, 300]).range([p.left, p.right]);
  var y = d3.scaleLinear().domain([0, p.yMax]).range([p.bottom, p.top]);

  svg.append("g")
    .attr("class", "grid")
    .attr("transform", "translate(0," + p.bottom + ")")
    .call(d3.axisBottom(x).tickValues(hourTicks).tickSize(-(p.bottom - p.top)).tickFormat(""));

  svg.append("g")
    .attr("class", "grid")
    .attr("transform", "translate(" + p.left + ",0)")
    .call(d3.axisLeft(y).tickValues(p.yTicks).tickSize(-(p.right - p.left)).tickFormat(""));

  p.series.forEach(function(data, i) {
    svg.append("g")
      .selectAll("circle")
      .data(data)
      .enter()
      .append("circle")
      .attr("cx", function(d) { return x(d[0]); })
      .attr("cy", function(d) { return y(d[1]); })
      .attr("r", 2.8)
      .attr("fill", seriesColors[i]);
  });

  var xa = svg.append("g")
    .attr("transform", "translate(0," + p.bottom + ")")
    .call(d3.axisBottom(x).tickValues(hourTicks)
      .tickFormat(function(d, i) { return hourLabels[i]; })
      .tickSize(0).tickPadding(9));
  xa.select(".domain").remove();
  xa.attr("font-family", null).attr("font-size", null);
  xa.selectAll("text").attr("font-size", 8.2).attr("font-weight", "bold").attr("fill", "#000");

  var ya = svg.append("g")
    .attr("transform", "translate(" + p.left + ",0)")
    .call(d3.axisLeft(y).tickValues(p.yTicks).tickFormat(d3.format(".3f"))
      .tickSize(0).tickPadding(16));
  ya.select(".domain").remove();
  ya.attr("font-family", null).attr("font-size", null);
  ya.selectAll("text").attr("font-size", 12).attr("font-weight", "bold").attr("fill", "#000");

  svg.append("text")
    .attr("x", 308).attr("y", p.titleY)
    .attr("text-anchor", "middle")
    .attr("font-size", 10.5)
    .attr("fill", "#595959")
    .text(p.title);

  svg.append("text")
    .attr("x", 339).attr("y", p.timeY)
    .attr("text-anchor", "middle")
    .attr("font-size", 9.5)
    .attr("font-weight", "bold")
    .text("Time(UTC)");

  svg.append("text")
    .attr("transform", "translate(" + p.rangeX + "," + p.rangeY + ") rotate(-90)")
    .attr("text-anchor", "middle")
    .attr("font-size", 11.5)
    .attr("font-weight", "bold")
    .text("3D Range");

  svg.append("text")
    .attr("transform", "translate(" + p.rangeX + "," + p.unitY + ") rotate(-90)")
    .attr("text-anchor", "middle")
    .attr("font-size", 11.5)
    .attr("font-weight", "bold")
    .text("[m]");
}

// legend
var legendDotX = [165, 385, 462];
var legend = svg.append("g");
seriesNames.forEach(function(name, i) {
  legend.append("circle")
    .attr("cx", legendDotX[i]).attr("cy", 570)
    .attr("r", 5.5)
    .attr("fill", seriesColors[i]);
  legend.append("text")
    .attr("x", legendDotX[i] + 11).attr("y", 576.5)
    .attr("font-size", 18.5)
    .attr("fill", "#000")
    .text(name);
});

</script>
</body>
</html>
